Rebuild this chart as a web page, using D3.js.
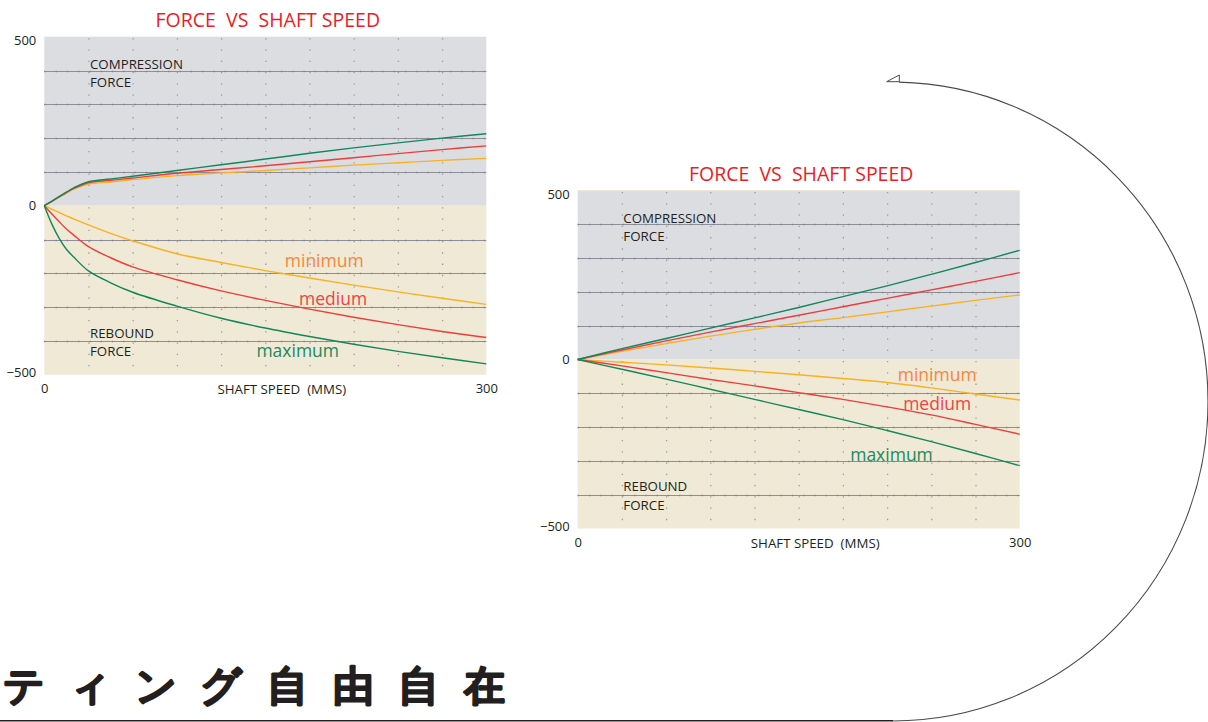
<!DOCTYPE html>
<html>
<head>
<meta charset="utf-8">
<script src="https://cdn.jsdelivr.net/npm/d3@7"></script>
<style>
  body { margin: 0; background: #fff; }
  svg { display: block; }
  text { font-family: "Open Sans", sans-serif; }
</style>
</head>
<body>
<svg id="svg" width="1208" height="722"></svg>
<script>
// ---- data: left chart (curved damping) ----
const speedsA = [0, 5, 10, 15, 20, 30, 45, 60, 90, 120, 150, 180, 210, 240, 270, 300];
const compMaxA = [0, 13, 27, 40, 53, 71, 79, 87, 104, 121, 138, 155, 171, 186, 200, 213];
const compMedA = [0, 13, 26, 39, 51, 68, 75, 82, 96, 107, 118, 130, 142, 154, 166, 177];
const compMinA = [0, 12, 25, 37, 49, 64, 70, 77, 89, 97, 104, 112, 120, 127, 134, 140];
const rebMinA = [0, -10, -20, -30, -39, -57, -82, -104, -142, -168, -192, -214, -235, -255, -274, -292];
const rebMedA = [0, -24, -47, -69, -87, -121, -154, -181, -219, -252, -280, -306, -330, -352, -372, -390];
const rebMaxA = [0, -53, -96, -129, -152, -193, -228, -256, -297, -333, -362, -387, -410, -431, -450, -468];

// ---- data: right chart (linear damping) ----
const speedsB = [0, 30, 60, 90, 120, 150, 180, 210, 240, 270, 300];
const compMaxB = [0, 32, 62, 93, 123, 154, 186, 218, 252, 287, 323];
const compMedB = [0, 28, 55, 81, 106, 131, 156, 181, 206, 231, 257];
const compMinB = [0, 24, 47, 69, 89, 108, 124, 141, 158, 175, 191];
const rebMinB = [0, -8, -16, -25, -35, -45, -56, -68, -84, -102, -120];
const rebMedB = [0, -19, -39, -59, -78, -98, -118, -140, -164, -192, -221];
const rebMaxB = [0, -29, -58, -88, -118, -148, -178, -210, -243, -278, -314];

const seriesNames = ["minimum", "medium", "maximum"];
const yTicks = [500, 0, -500];
const xTicks = [0, 300];
const yGrid = [-400, -300, -200, -100, 100, 200, 300, 400];
const xGrid = [30, 60, 90, 120, 150, 180, 210, 240, 270];
const title = "FORCE  VS  SHAFT SPEED";
const xTitle = "SHAFT SPEED  (MMS)";
const bottomText = ["テ", "ィ", "ン", "グ", "自", "由", "自", "在"];

const lineColor = { minimum: "#f9b122", medium: "#ee3d3b", maximum: "#12875c" };
const labelColor = { minimum: "#f5873f", medium: "#ee4442", maximum: "#1d8a5f" };

const svg = d3.select("#svg");
const plotW = 442, plotH = 338;

function drawChart(cfg) {
  const x = d3.scaleLinear().domain([0, 300]).range([cfg.left, cfg.left + plotW]);
  const y = d3.scaleLinear().domain([-500, 500]).range([cfg.top + plotH, cfg.top]);
  const g = svg.append("g");

  // background bands
  g.append("rect")
    .attr("x", x(0)).attr("y", y(500))
    .attr("width", x(300) - x(0)).attr("height", y(0) - y(500))
    .attr("fill", "#dcdde0");
  g.append("rect")
    .attr("x", x(0)).attr("y", y(0))
    .attr("width", x(300) - x(0)).attr("height", y(-500) - y(0))
    .attr("fill", "#efe9d6");
  if (cfg.topEdge) {
    g.append("line")
      .attr("x1", x(0)).attr("x2", x(300))
      .attr("y1", y(500) + 0.5).attr("y2", y(500) + 0.5)
      .attr("stroke", "#f1e3bd").attr("stroke-width", 1);
  }

  // dotted vertical guides
  g.selectAll(".vgrid").data(xGrid).join("line")
    .attr("x1", d => x(d) + 0.5).attr("x2", d => x(d) + 0.5)
    .attr("y1", y(500)).attr("y2", y(-500))
    .attr("stroke", "#9a9a9a").attr("stroke-width", 1.3)
    .attr("stroke-dasharray", "1.3,9.97")
    .attr("stroke-dashoffset", -1.5);

  // horizontal grid lines
  g.selectAll(".hgrid").data(yGrid).join("line")
    .attr("x1", x(0)).attr("x2", x(300))
    .attr("y1", d => Math.round(y(d)) + 0.5).attr("y2", d => Math.round(y(d)) + 0.5)
    .attr("stroke", "#8e8e9b").attr("stroke-width", 1);
  g.selectAll(".hdots").data(yGrid).join("line")
    .attr("x1", x(0)).attr("x2", x(300))
    .attr("y1", d => Math.round(y(d)) + 0.5).attr("y2", d => Math.round(y(d)) + 0.5)
    .attr("stroke", "#80808c").attr("stroke-width", 1.3)
    .attr("stroke-dasharray", "1.2,10.07");

  // curves
  const line = d3.line()
    .x((d, i) => x(cfg.speeds[i]))
    .y(d => y(d))
    .curve(d3.curveCatmullRom.alpha(0.5));
  seriesNames.forEach(name => {
    [cfg.comp[name], cfg.reb[name]].forEach(vals => {
      g.append("path")
        .attr("d", line(vals))
        .attr("fill", "none")
        .attr("stroke", lineColor[name])
        .attr("stroke-width", 1.4);
    });
  });

  // y axis
  const ya = g.append("g")
    .attr("transform", `translate(${x(0)},0)`)
    .call(d3.axisLeft(y).tickValues(yTicks).tickSize(0).tickPadding(8));
  ya.select(".domain").remove();
  ya.selectAll("text")
    .attr("font-size", 13).attr("fill", "#231f20")
    .attr("font-family", "'Open Sans', sans-serif")
    .attr("dy", d => d === 500 ? "0.62em" : d === -500 ? "0.15em" : "0.32em");

  // x axis
  const xa = g.append("g")
    .attr("transform", `translate(0,${y(-500)})`)
    .call(d3.axisBottom(x).tickValues(xTicks).tickSize(0).tickPadding(9));
  xa.select(".domain").remove();
  xa.selectAll("text")
    .attr("font-size", 13).attr("fill", "#231f20")
    .attr("font-family", "'Open Sans', sans-serif");

  g.append("text")
    .attr("x", (x(0) + x(300)) / 2 + 16.5).attr("y", y(-500) + 19)
    .attr("text-anchor", "middle")
    .attr("font-size", 13.3).attr("fill", "#231f20")
    .style("white-space", "pre")
    .text(xTitle);

  // title
  g.append("text")
    .attr("x", (x(0) + x(300)) / 2 + 2.5).attr("y", y(500) - 10)
    .attr("text-anchor", "middle")
    .attr("font-size", 19.5).attr("fill", "#ed1c24")
    .style("white-space", "pre")
    .text(title);

  // region notes
  const notes = [["COMPRESSION", 404], ["FORCE", 352], ["REBOUND", -390], ["FORCE", -444]];
  g.selectAll(".note").data(notes).join("text")
    .attr("x", x(31)).attr("y", d => y(d[1]))
    .attr("font-size", 13.3).attr("fill", "#231f20")
    .text(d => d[0]);

  // series labels
  g.selectAll(".slabel").data(cfg.labels).join("text")
    .attr("x", d => x(d.at[0])).attr("y", d => y(d.at[1]))
    .attr("text-anchor", "middle")
    .attr("font-size", 17.5)
    .attr("fill", d => labelColor[d.name])
    .text(d => d.name);
}

drawChart({
  left: 44.3, top: 36.7, speeds: speedsA,
  comp: { minimum: compMinA, medium: compMedA, maximum: compMaxA },
  reb: { minimum: rebMinA, medium: rebMedA, maximum: rebMaxA },
  labels: [
    { name: "minimum", at: [190, -181] },
    { name: "medium", at: [196, -294] },
    { name: "maximum", at: [172, -447] }
  ]
});

drawChart({
  left: 577.7, top: 190.5, speeds: speedsB, topEdge: true,
  comp: { minimum: compMinB, medium: compMedB, maximum: compMaxB },
  reb: { minimum: rebMinB, medium: rebMedB, maximum: rebMaxB },
  labels: [
    { name: "minimum", at: [244, -64] },
    { name: "medium", at: [244, -148] },
    { name: "maximum", at: [213, -301] }
  ]
});

// big heading fragment at the bottom
svg.selectAll(".jp").data(bottomText).join("text")
  .attr("x", (d, i) => 24 + i * 65.8)
  .attr("y", 684)
  .attr("text-anchor", "middle")
  .attr("dominant-baseline", "central")
  .attr("font-family", "'Noto Sans CJK JP', sans-serif")
  .attr("font-weight", "bold")
  .attr("font-size", 41)
  .attr("fill", "#231f20")
  .attr("stroke", "#231f20")
  .attr("stroke-width", 1.8)
  .attr("stroke-linejoin", "round")
  .text(d => d);

// rule and circular return arrow
svg.append("line")
  .attr("x1", 0).attr("x2", 893)
  .attr("y1", 720.8).attr("y2", 720.8)
  .attr("stroke", "#231f20").attr("stroke-width", 1.4);

const cx = 893, cy = 401.5, rx = 315, ry = 319.5;
svg.append("path")
  .attr("d", `M${cx},${cy + ry} A${rx},${ry} 0 0 0 ${cx + rx},${cy} A${rx},${ry} 0 0 0 ${cx + 6},${cy - ry + 0.1}`)
  .attr("fill", "none")
  .attr("stroke", "#4a4a4a")
  .attr("stroke-width", 1.1);

svg.append("path")
  .attr("d", d3.line()([[886.7, 81.7], [899.3, 75], [899.3, 81.7]]) + "Z")
  .attr("fill", "#fff")
  .attr("stroke", "#4a4a4a")
  .attr("stroke-width", 1);
</script>
</body>
</html>
